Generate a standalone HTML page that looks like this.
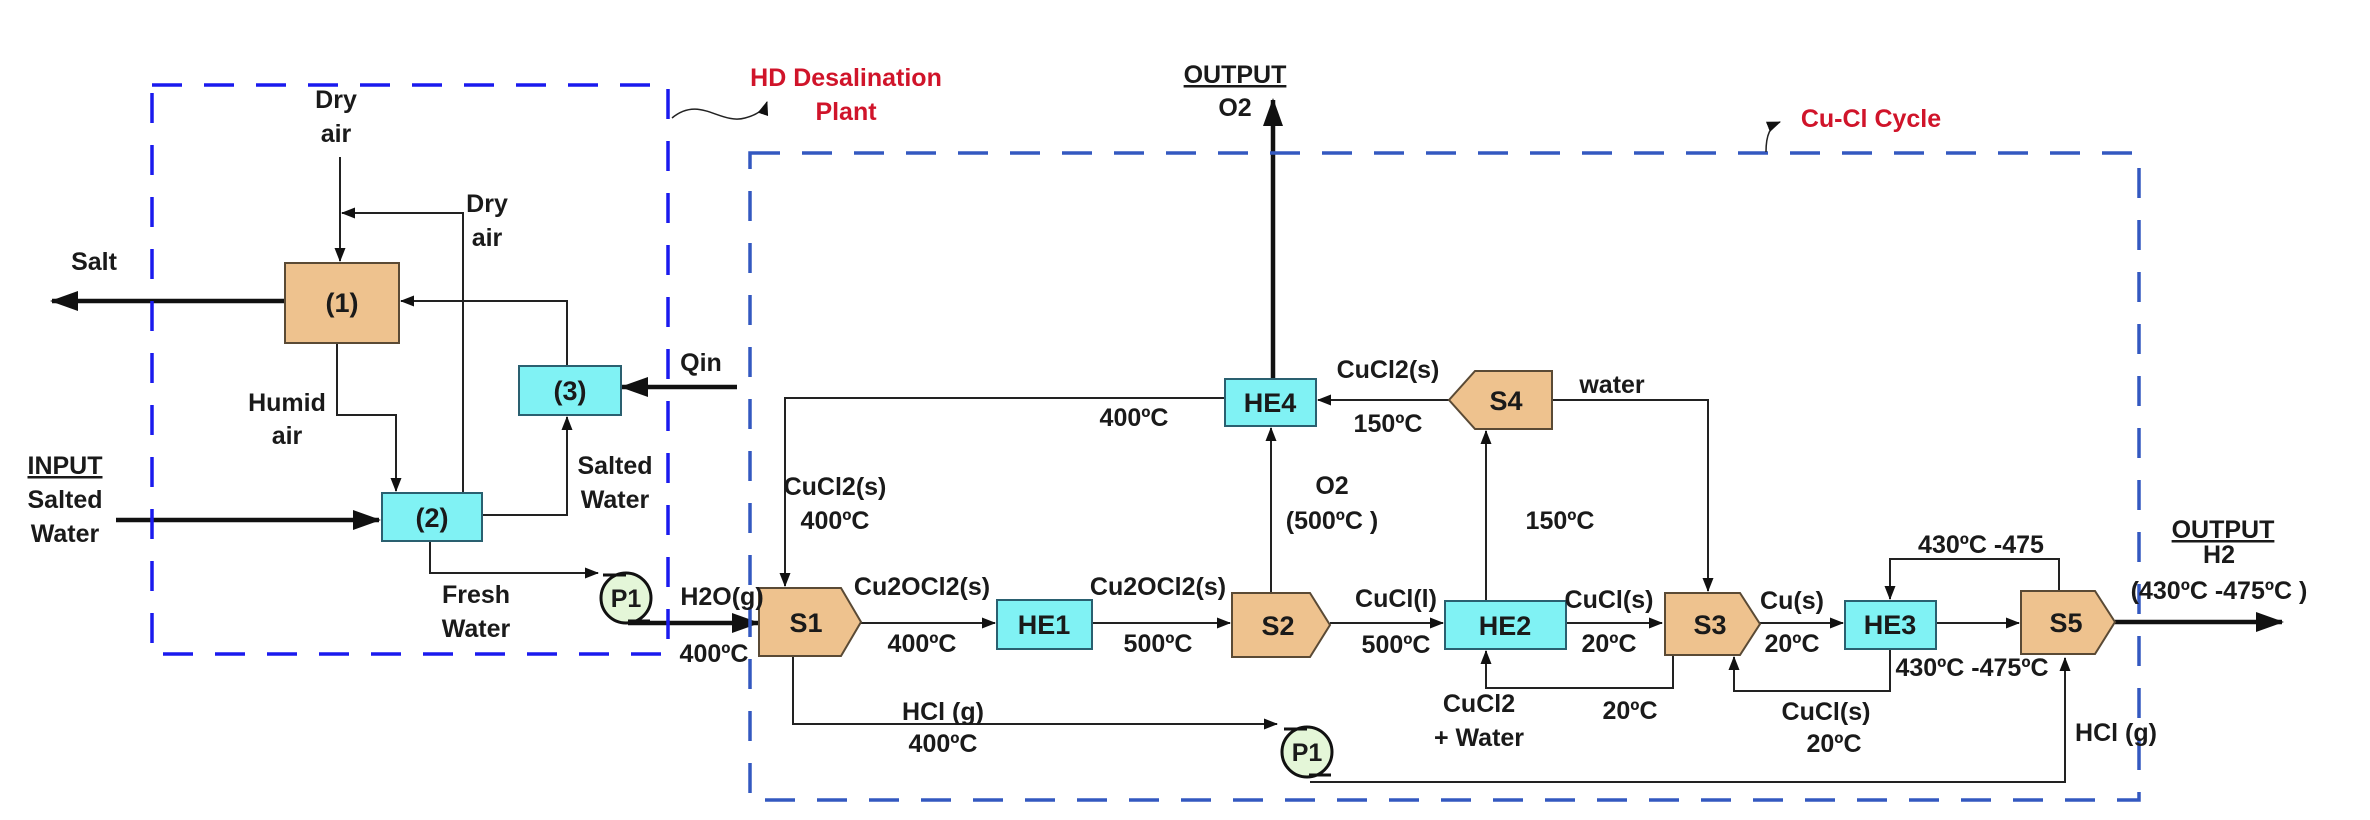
<!DOCTYPE html>
<html><head><meta charset="utf-8"><style>
html,body{margin:0;padding:0;background:#fff;}
svg{display:block;}
text{font-family:"Liberation Sans",Arial,sans-serif;font-weight:bold;fill:#1a1a1a;font-size:25px;}
.r{fill:#d0142a;}
.bx{font-size:27px;}
</style></head><body>
<svg width="2370" height="820" viewBox="0 0 2370 820" xmlns="http://www.w3.org/2000/svg">
<defs>
<marker id="a" markerWidth="14" markerHeight="11" refX="13" refY="5.5" orient="auto" markerUnits="userSpaceOnUse" viewBox="0 0 14 11"><path d="M0,0 L14,5.5 L0,11 z" fill="#111"/></marker>
<marker id="ab" markerWidth="28" markerHeight="20" refX="26" refY="10" orient="auto" markerUnits="userSpaceOnUse" viewBox="0 0 28 20"><path d="M0,0 L28,10 L0,20 z" fill="#111"/></marker>
</defs>
<g fill="none" stroke="#222" stroke-width="2">
<path d="M340,157 V261" marker-end="url(#a)"/>
<path d="M463,493 V213 H342" marker-end="url(#a)"/>
<path d="M567,366 V301 H401" marker-end="url(#a)"/>
<path d="M337,343 V415 H396 V491" marker-end="url(#a)"/>
<path d="M482,515 H567 V417" marker-end="url(#a)"/>
<path d="M430,541 V573 H598" marker-end="url(#a)"/>
<path d="M1225,398 H785 V586" marker-end="url(#a)"/>
<path d="M861,623 H995" marker-end="url(#a)"/>
<path d="M1092,623 H1230" marker-end="url(#a)"/>
<path d="M1271,593 V428" marker-end="url(#a)"/>
<path d="M1449,400 H1318" marker-end="url(#a)"/>
<path d="M1330,623 H1443" marker-end="url(#a)"/>
<path d="M1486,601 V431" marker-end="url(#a)"/>
<path d="M1673,655 V688 H1486 V651" marker-end="url(#a)"/>
<path d="M1552,400 H1708 V591" marker-end="url(#a)"/>
<path d="M1566,623 H1662" marker-end="url(#a)"/>
<path d="M1760,623 H1843" marker-end="url(#a)"/>
<path d="M1936,623 H2019" marker-end="url(#a)"/>
<path d="M2059,591 V559 H1890 V599" marker-end="url(#a)"/>
<path d="M1890,649 V691 H1734 V657" marker-end="url(#a)"/>
<path d="M793,656 V724 H1277" marker-end="url(#a)"/>
<path d="M1310,782 H2065 V658" marker-end="url(#a)"/>
</g>
<g fill="none" stroke="#111" stroke-width="4.5">
<path d="M285,301 H52" marker-end="url(#ab)"/>
<path d="M737,387 H622" marker-end="url(#ab)"/>
<path d="M116,520 H379" marker-end="url(#ab)"/>
<path d="M628,623 H758" marker-end="url(#ab)"/>
<path d="M1273,379 V100" marker-end="url(#ab)"/>
<path d="M2115,622 H2282" marker-end="url(#ab)"/>
</g>
<rect x="152" y="85" width="516" height="569" fill="none" stroke="#1a1aee" stroke-width="3.5" stroke-dasharray="30,22"/>
<rect x="750" y="153" width="1389" height="647" fill="none" stroke="#3358c0" stroke-width="3.5" stroke-dasharray="30,22"/>
<path d="M672,118 C700,95 720,125 745,118 C760,114 765,108 767,102" fill="none" stroke="#222" stroke-width="1.5" marker-end="url(#a)"/>
<path d="M1766,152 C1766,135 1770,126 1780,122" fill="none" stroke="#222" stroke-width="1.5" marker-end="url(#a)"/>
<g stroke="#5a4a35" stroke-width="2" fill="#eec28e">
<rect x="285" y="263" width="114" height="80"/>
<path d="M759,588 H841 L861,622 L841,656 H759 Z"/>
<path d="M1232,593 H1310 L1330,625 L1310,657 H1232 Z"/>
<path d="M1665,593 H1740 L1760,624 L1740,655 H1665 Z"/>
<path d="M2021,591 H2095 L2115,622 L2095,654 H2021 Z"/>
<path d="M1475,371 H1552 V429 H1475 L1449,400 Z"/>
</g>
<g stroke="#2a6070" stroke-width="2" fill="#80f2f4">
<rect x="519" y="366" width="102" height="49"/>
<rect x="382" y="493" width="100" height="48"/>
<rect x="997" y="600" width="95" height="49"/>
<rect x="1225" y="379" width="91" height="47"/>
<rect x="1445" y="601" width="121" height="48"/>
<rect x="1845" y="601" width="91" height="48"/>
</g>
<g stroke="#111" stroke-width="3" fill="#e4f6d8">
<circle cx="626" cy="598" r="25"/><circle cx="1307" cy="752" r="25"/>
<path d="M603,575 H626 M628,621 H650" fill="none"/>
<path d="M1284,729 H1307 M1309,775 H1331" fill="none"/>
</g>
<g text-anchor="middle">
<text x="342" y="312" class="bx">(1)</text>
<text x="432" y="527" class="bx">(2)</text>
<text x="570" y="400" class="bx">(3)</text>
<text x="626" y="607" font-size="24">P1</text>
<text x="1307" y="761" font-size="24">P1</text>
<text x="806" y="632" class="bx">S1</text>
<text x="1044" y="634" class="bx">HE1</text>
<text x="1278" y="635" class="bx">S2</text>
<text x="1270" y="412" class="bx">HE4</text>
<text x="1506" y="410" class="bx">S4</text>
<text x="1505" y="635" class="bx">HE2</text>
<text x="1710" y="634" class="bx">S3</text>
<text x="1890" y="634" class="bx">HE3</text>
<text x="2066" y="632" class="bx">S5</text>

<text x="336" y="108">Dry</text><text x="336" y="142">air</text>
<text x="487" y="212">Dry</text><text x="487" y="246">air</text>
<text x="94" y="270">Salt</text>
<text x="701" y="371">Qin</text>
<text x="287" y="411">Humid</text><text x="287" y="444">air</text>
<text x="615" y="474">Salted</text><text x="615" y="508">Water</text>
<text x="65" y="474" text-decoration="underline">INPUT</text><text x="65" y="508">Salted</text><text x="65" y="542">Water</text>
<text x="476" y="603">Fresh</text><text x="476" y="637">Water</text>
<text x="722" y="605">H2O(g)</text><text x="714" y="662">400ºC</text>
<text x="846" y="86" class="r">HD Desalination</text><text x="846" y="120" class="r">Plant</text>
<text x="1871" y="127" class="r">Cu-Cl Cycle</text>
<text x="1235" y="83" text-decoration="underline">OUTPUT</text><text x="1235" y="116">O2</text>
<text x="1388" y="378">CuCl2(s)</text><text x="1388" y="432">150ºC</text>
<text x="1134" y="426">400ºC</text>
<text x="835" y="495">CuCl2(s)</text><text x="835" y="529">400ºC</text>
<text x="922" y="595">Cu2OCl2(s)</text><text x="922" y="652">400ºC</text>
<text x="1158" y="595">Cu2OCl2(s)</text><text x="1158" y="652">500ºC</text>
<text x="1332" y="494">O2</text><text x="1332" y="529">(500ºC )</text>
<text x="1396" y="607">CuCl(l)</text><text x="1396" y="653">500ºC</text>
<text x="1560" y="529">150ºC</text>
<text x="1612" y="393">water</text>
<text x="1609" y="608">CuCl(s)</text><text x="1609" y="652">20ºC</text>
<text x="1792" y="609">Cu(s)</text><text x="1792" y="652">20ºC</text>
<text x="1479" y="712">CuCl2</text><text x="1479" y="746">+ Water</text>
<text x="1630" y="719">20ºC</text>
<text x="943" y="720">HCl (g)</text><text x="943" y="752">400ºC</text>
<text x="1981" y="553">430ºC -475</text>
<text x="1972" y="676">430ºC -475ºC</text>
<text x="1826" y="720">CuCl(s)</text><text x="1834" y="752">20ºC</text>
<text x="2116" y="741">HCl (g)</text>
<text x="2223" y="538" text-decoration="underline">OUTPUT</text><text x="2219" y="563">H2</text>
<text x="2219" y="599">(430ºC -475ºC )</text>
</g>
</svg>
</body></html>
